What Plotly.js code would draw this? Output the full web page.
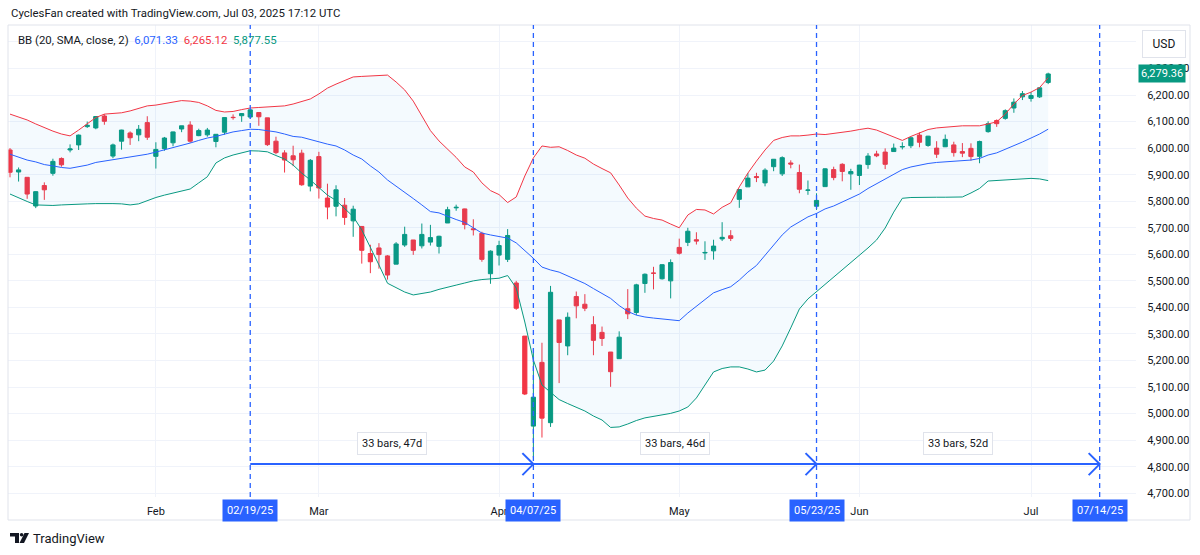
<!DOCTYPE html>
<html><head><meta charset="utf-8">
<script src="https://cdn.plot.ly/plotly-3.0.1.min.js"></script>
<style>html,body{margin:0;padding:0;background:#fff;}#chart{width:1200px;height:555px;}</style>
</head><body><div id="chart"></div>
<script>
// ---------- DATA ----------
const tradingDates = [
 '2025-01-07','2025-01-08','2025-01-10','2025-01-13','2025-01-14','2025-01-15','2025-01-16','2025-01-17','2025-01-21','2025-01-22','2025-01-23','2025-01-24','2025-01-27','2025-01-28','2025-01-29','2025-01-30','2025-01-31',
 '2025-02-03','2025-02-04','2025-02-05','2025-02-06','2025-02-07','2025-02-10','2025-02-11','2025-02-12','2025-02-13','2025-02-14','2025-02-18','2025-02-19','2025-02-20','2025-02-21','2025-02-24','2025-02-25','2025-02-26','2025-02-27','2025-02-28',
 '2025-03-03','2025-03-04','2025-03-05','2025-03-06','2025-03-07','2025-03-10','2025-03-11','2025-03-12','2025-03-13','2025-03-14','2025-03-17','2025-03-18','2025-03-19','2025-03-20','2025-03-21','2025-03-24','2025-03-25','2025-03-26','2025-03-27','2025-03-28','2025-03-31',
 '2025-04-01','2025-04-02','2025-04-03','2025-04-04','2025-04-07','2025-04-08','2025-04-09','2025-04-10','2025-04-11','2025-04-14','2025-04-15','2025-04-16','2025-04-17','2025-04-21','2025-04-22','2025-04-23','2025-04-24','2025-04-25','2025-04-28','2025-04-29','2025-04-30',
 '2025-05-01','2025-05-02','2025-05-05','2025-05-06','2025-05-07','2025-05-08','2025-05-09','2025-05-12','2025-05-13','2025-05-14','2025-05-15','2025-05-16','2025-05-19','2025-05-20','2025-05-21','2025-05-22','2025-05-23','2025-05-27','2025-05-28','2025-05-29','2025-05-30',
 '2025-06-02','2025-06-03','2025-06-04','2025-06-05','2025-06-06','2025-06-09','2025-06-10','2025-06-11','2025-06-12','2025-06-13','2025-06-16','2025-06-17','2025-06-18','2025-06-20','2025-06-23','2025-06-24','2025-06-25','2025-06-26','2025-06-27','2025-06-30',
 '2025-07-01','2025-07-02','2025-07-03'
];
const futureDates = ['2025-07-07','2025-07-08','2025-07-09','2025-07-10','2025-07-11','2025-07-14','2025-07-15','2025-07-16','2025-07-17','2025-07-18'];

const openPrices = [
 5993,5910,5890,5782,5859,5905,5961,5993,6012,6081,6076,6121,5970,6026,6057,6050,6096,
 5969,5998,6020,6072,6087,6047,6050,6025,6060,6116,6122,6117,6134,6114,6026,5982,5971,5981,5857,
 5968,5812,5781,5785,5726,5705,5603,5624,5594,5563,5635,5654,5632,5646,5630,5718,5775,5771,5696,5679,5527,
 5597,5581,5492,5292,4953,5193,4966,5353,5255,5441,5412,5335,5306,5232,5207,5395,5381,5490,5529.2,5508,5500,
 5626,5645,5655,5605,5613,5658,5670,5807,5854,5893,5869,5930,5903,5944,5908,5841,5781,5855,5919,5939,5903,
 5897,5938,5978,5985,5987,6004,6009,6049,6010,6000,6005,6012,5987,5999,5969,6062,6104,6112,6151,6193,
 6187,6193,6247
];
const highPrices = [
 6000,5927,5890,5837,5871,5960,5965,6014,6051,6100,6119,6128,6017,6069,6063,6087,6120,
 6022,6042,6062,6084,6101,6073,6076,6052,6116,6127,6131,6147,6134,6114,6043,5992,6009,5994,5959,
 5986,5866,5860,5812,5783,5705,5636,5642,5597,5646,5704,5654,5716,5711,5670,5779,5787,5772,5732,5685,5615,
 5651,5695,5500,5292,5246,5267,5481,5353,5381,5460,5450,5367,5328,5232,5310,5469,5489,5528,5553,5562,5581,
 5659,5700,5683,5649,5655,5721,5691,5845,5906,5907,5924,5959,5969,5954,5938,5878,5830,5924,5930,5943,5922,
 5937,5981,5990,5999,6017,6022,6043,6059,6046,6026,6051,6024,6019,6018,6028,6101,6108,6146,6187,6215,
 6211,6228,6284
];
const lowPrices = [
 5890,5874,5809,5774,5805,5896,5930,5984,5993,6076,6071,6088,5962,5994,6012,6026,6031,
 5923,5990,6007,6060,6020,6045,6043,6003,6051,6107,6099,6111,6084,6008,5977,5908,5932,5858,5837,
 5810,5732,5743,5711,5666,5565,5529,5546,5505,5563,5628,5598,5622,5633,5603,5718,5764,5694,5671,5572,5489,
 5558,5571,5391,5070,4835,4910,4950,5115,5220,5359,5386,5220,5255,5101,5207,5356,5371,5455,5468,5505,5434,
 5599,5631,5637,5579,5580,5650,5650,5775,5854,5872,5856,5913,5895,5924,5830,5824,5767,5854,5879,5875,5843,
 5861,5922,5966,5921,5987,5995,6000,6003,6005,5963,6004,5968,5966,5953,5943,6058,6080,6107,6133,6181,
 6175,6189,6241
];
const closePrices = [
 5909,5918,5827,5836,5843,5950,5937,5997,6049,6086,6119,6101,6012,6068,6039,6071,6041,
 5995,6038,6061,6084,6026,6066,6068,6052,6115,6115,6130,6144,6118,6013,5983,5955,5956,5862,5954,
 5850,5778,5843,5739,5770,5615,5572,5599,5522,5639,5675,5615,5675,5663,5668,5768,5777,5712,5693,5581,5612,
 5633,5671,5397,5074,5062,4983,5457,5268,5363,5406,5397,5276,5283,5158,5288,5376,5485,5525,5528.8,5561,5569,
 5604,5687,5650,5607,5631,5664,5660,5844,5887,5889,5917,5958,5964,5940,5845,5842,5803,5922,5889,5912,5911.7,
 5936,5970,5971,5939,6000,6006,6039,6022,6045,5977,6033,5983,5981,5968,6025,6092,6092,6141,6173,6205,
 6198,6227,6279.36
];
const bbUpper = [
 6128,6117,6106,6091,6076,6064,6053,6046,6068,6092,6115,6128,6130,6133,6140,6149,6159,
 6162,6168,6174,6179,6177,6172,6159,6142,6136,6138,6145,6151,6153,6155,6155,6159,6166,6177,6185,
 6204,6226,6241,6256,6268,6270,6272,6273,6275,6249,6219,6177,6121,6066,6027,5995,5965,5929,5910,5869,5840,
 5825,5795,5816,5895,5963,6008,6003,6005,5991,5974,5962,5940,5923,5907,5861,5812,5774,5744,5735,5729,5714,
 5700,5748,5769,5767,5752,5777,5794,5854,5906,5951,5993,6029,6040,6046,6046,6049,6053,6051,6055,6059,6064,
 6070,6075,6068,6055,6040,6029,6044,6057,6070,6076,6079,6081,6084,6084,6084,6091,6099,6128,6166,6198,
 6211,6228,6265.12
];
const bbBasis = [
 5977,5967,5955,5948,5938,5933,5927,5924,5929,5936,5946,5951,5955,5962,5967,5972,5977,
 5985,5993,6002,6011,6019,6029,6038,6044,6053,6061,6066,6071,6070,6066,6061,6053,6044,6041,6032,
 6023,6015,6008,5993,5974,5959,5933,5910,5880,5857,5836,5810,5786,5761,5756,5742,5731,5720,5699,5680,5673,
 5667,5661,5643,5614,5585,5552,5541,5533,5518,5503,5490,5471,5454,5434,5407,5385,5371,5364,5360,5356,5353,
 5350,5379,5405,5432,5455,5467,5478,5503,5533,5558,5597,5637,5673,5703,5722,5741,5754,5771,5782,5797,5810,
 5827,5848,5865,5884,5901,5919,5929,5936,5942,5946,5948,5950,5951,5955,5961,5974,5982,5995,6008,6023,
 6038,6053,6071.33
];
const bbLower = [
 5827,5812,5799,5786,5784,5784,5786,5788,5790,5790,5791,5792,5791,5790,5786,5790,5803,
 5814,5823,5831,5840,5846,5869,5892,5944,5963,5974,5983,5990,5989,5986,5972,5959,5936,5906,5880,
 5850,5823,5803,5774,5742,5692,5629,5560,5491,5473,5458,5447,5452,5458,5468,5477,5484,5492,5500,5505,5507,
 5510,5520,5473,5345,5202,5108,5082,5053,5038,5025,5010,4991,4976,4948,4950,4961,4974,4984,4989,4995,5001,
 5010,5025,5059,5108,5157,5170,5176,5176,5168,5157,5164,5198,5255,5323,5394,5432,5459,5486,5515,5541,5569,
 5594,5624,5654,5699,5759,5811,5814,5815,5815,5815,5815,5815,5816,5831,5848,5876,5878,5880,5882,5884,
 5886,5884,5877.55
];
const monthTickDates = ['2025-02-03','2025-03-03','2025-04-01','2025-05-01','2025-06-02','2025-07-01'];
const monthLabels = ['Feb','Mar','Apr','May','Jun','Jul'];
const cycleDates = ['2025-02-19','2025-04-07','2025-05-23','2025-07-14'];
const priceTicks = [4700,4800,4900,5000,5100,5200,5300,5400,5500,5600,5700,5800,5900,6000,6100,6200,6300,6400];
const hiddenPriceTicks = [6400]; // grid line only, label sits under the USD box

// ---------- STYLE / GEOMETRY ----------
const C_UP = '#089981', C_DN = '#F23645', C_BLUE = '#2962FF', C_TXT = '#131722';
const PL = 8, PT = 25, PW = 1128, PH = 472;
const fx = p => (p - PL) / PW;
const fy = p => (PT + PH - p) / PH;
const arrowLevel = 4810, labelLevel = 4889;

const allDates = tradingDates.concat(futureDates);
const idx = d => allDates.indexOf(d);
const fmtDate = d => { const [y,m,dd] = d.split('-'); return m + '/' + dd + '/' + y.slice(2); };
const fmtNum = v => v.toLocaleString('en-US', {minimumFractionDigits:2, maximumFractionDigits:2});

const traces = [
  {type:'scatter', mode:'lines', x:tradingDates, y:bbUpper, line:{color:C_DN, width:1}, hoverinfo:'skip'},
  {type:'scatter', mode:'lines', x:tradingDates, y:bbLower, line:{color:C_UP, width:1}, fill:'tonexty', fillcolor:'rgba(33,150,243,0.05)', hoverinfo:'skip'},
  {type:'scatter', mode:'lines', x:tradingDates, y:bbBasis, line:{color:C_BLUE, width:1}, hoverinfo:'skip'},
  {type:'candlestick', x:tradingDates, open:openPrices, high:highPrices, low:lowPrices, close:closePrices,
   increasing:{line:{color:C_UP, width:1}, fillcolor:C_UP},
   decreasing:{line:{color:C_DN, width:1}, fillcolor:C_DN}, whiskerwidth:0, hoverinfo:'skip'}
];

const shapes = [];
const annotations = [];

// outer frame
shapes.push({type:'rect', xref:'paper', yref:'paper', x0:0, x1:fx(1190), y0:fy(520), y1:1, line:{color:'#e0e3eb', width:1}, layer:'above'});

// cycle lines
cycleDates.forEach(d => {
  shapes.push({type:'line', xref:'x', yref:'paper', x0:idx(d), x1:idx(d), y0:0, y1:1, line:{color:C_BLUE, width:1.3, dash:'5px,4px'}});
  annotations.push({xref:'x', yref:'paper', x:idx(d), y:0, yanchor:'top', yshift:-2, text:fmtDate(d), showarrow:false,
    bgcolor:C_BLUE, font:{color:'#ffffff', size:11}, borderpad:4});
});
for (let k = 0; k < cycleDates.length - 1; k++) {
  const a = idx(cycleDates[k]), b = idx(cycleDates[k+1]);
  shapes.push({type:'line', xref:'x', yref:'y', x0:a, x1:b, y0:arrowLevel, y1:arrowLevel, line:{color:C_BLUE, width:2}});
  shapes.push({type:'path', xref:'x', yref:'y', xsizemode:'pixel', ysizemode:'pixel', xanchor:b, yanchor:arrowLevel,
    path:'M-11,11 L0,0 L-11,-11', line:{color:C_BLUE, width:2}});
  const days = Math.round((Date.parse(cycleDates[k+1]) - Date.parse(cycleDates[k])) / 86400000);
  annotations.push({xref:'x', yref:'y', x:(a+b)/2, y:labelLevel, text:(b-a) + ' bars, ' + days + 'd', showarrow:false,
    bgcolor:'#ffffff', bordercolor:'#e0e3eb', borderwidth:1, borderpad:4, font:{size:11, color:C_TXT}});
}

// header
annotations.push({xref:'paper', yref:'paper', x:fx(9), y:fy(13), xanchor:'left', yanchor:'middle', showarrow:false,
  text:'CyclesFan created with TradingView.com, Jul 03, 2025 17:12 UTC', font:{size:11.4, color:C_TXT}});
const last = tradingDates.length - 1;
annotations.push({xref:'paper', yref:'paper', x:fx(16), y:fy(40), xanchor:'left', yanchor:'middle', showarrow:false,
  text:'BB (20, SMA, close, 2)  <span style="color:' + C_BLUE + '">' + fmtNum(bbBasis[last]) + '</span>  <span style="color:' + C_DN + '">' + fmtNum(bbUpper[last]) + '</span>  <span style="color:' + C_UP + '">' + fmtNum(bbLower[last]) + '</span>',
  font:{size:11.4, color:C_TXT}});
// USD box
annotations.push({xref:'paper', yref:'paper', x:fx(1163.5), y:fy(44), xanchor:'center', yanchor:'middle', showarrow:false,
  text:'USD', bgcolor:'#ffffff', bordercolor:'#e0e3eb', borderwidth:1, borderpad:6, width:30, font:{size:12, color:C_TXT}});
// last price tag
annotations.push({xref:'paper', yref:'y', x:fx(1138), y:closePrices[last], xanchor:'left', yanchor:'middle', showarrow:false,
  text:fmtNum(closePrices[last]), bgcolor:C_UP, borderpad:2, font:{size:11, color:'#ffffff'}});
// footer
annotations.push({xref:'paper', yref:'paper', x:fx(31), y:fy(538), xanchor:'left', yanchor:'middle', showarrow:false,
  text:'TradingView', font:{size:13, color:C_TXT}});
shapes.push({type:'path', xref:'paper', yref:'paper', xsizemode:'pixel', ysizemode:'pixel', xanchor:fx(10), yanchor:fy(538),
  path:'M0,5 L9,5 L9,-5 L5,-5 L5,1.5 L0,1.5 Z', fillcolor:C_TXT, line:{width:0}});
shapes.push({type:'circle', xref:'paper', yref:'paper', xsizemode:'pixel', ysizemode:'pixel', xanchor:fx(10), yanchor:fy(538),
  x0:9.8, x1:13.4, y0:1.4, y1:5, fillcolor:C_TXT, line:{width:0}});
shapes.push({type:'path', xref:'paper', yref:'paper', xsizemode:'pixel', ysizemode:'pixel', xanchor:fx(10), yanchor:fy(538),
  path:'M14.5,5 L19,5 L14,-5 L9.5,-5 Z', fillcolor:C_TXT, line:{width:0}});

const layout = {
  width:1200, height:555,
  margin:{l:PL, r:1200-PL-PW, t:PT, b:555-PT-PH, pad:0},
  paper_bgcolor:'#ffffff', plot_bgcolor:'#ffffff',
  showlegend:false, hovermode:false,
  font:{family:'Roboto, "Open Sans", sans-serif', size:11, color:C_TXT},
  xaxis:{type:'category', categoryorder:'array', categoryarray:allDates,
    range:[-2/8.58, (PW-2)/8.58], autorange:false, fixedrange:true,
    rangeslider:{visible:false},
    tickmode:'array', tickvals:monthTickDates.map(idx), ticktext:monthLabels,
    showgrid:true, gridcolor:'#f0f3fa', gridwidth:1, zeroline:false, showline:false,
    ticks:'outside', ticklen:4, tickcolor:'rgba(0,0,0,0)', tickfont:{size:11, color:C_TXT}},
  yaxis:{side:'right', range:[4686.07, 6463.62], autorange:false, fixedrange:true,
    tickmode:'array', tickvals:priceTicks,
    ticktext:priceTicks.map(v => hiddenPriceTicks.includes(v) ? '' : fmtNum(v)),
    showgrid:true, gridcolor:'#f0f3fa', gridwidth:1, zeroline:false, showline:false,
    ticks:'outside', ticklen:8, tickcolor:'rgba(0,0,0,0)', tickfont:{size:11, color:C_TXT}},
  shapes:shapes, annotations:annotations
};

Plotly.newPlot('chart', traces, layout, {staticPlot:true, displayModeBar:false});
</script></body></html>
